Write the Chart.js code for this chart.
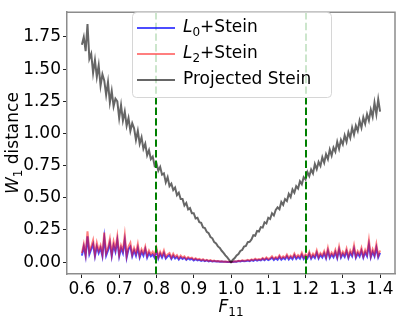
<!DOCTYPE html>
<html lang="en">
<head>
    <meta charset="UTF-8">
    <title>W1 distance vs F11</title>
    <script src="https://cdn.jsdelivr.net/npm/chart.js@4.4.1/dist/chart.umd.min.js"></script>
    <style>
        body {
            margin: 0;
            background: #ffffff;
        }
    </style>
</head>
<body>
    <canvas id="chart" width="399" height="319"></canvas>

    <script>
        // sampling grid of F11 (0.6 .. 1.4, step 0.005)
        const xStart = 0.6;
        const xStep = 0.005;

        const xTicks = [0.6, 0.7, 0.8, 0.9, 1.0, 1.1, 1.2, 1.3, 1.4];
        const yTicks = [0, 0.25, 0.5, 0.75, 1.0, 1.25, 1.5, 1.75];
        const markerLines = [0.8, 1.2];

        const projectedStein = [
            1.69,1.75,1.64,1.85,1.58,1.62,1.47,1.57,1.44,1.53,
            1.37,1.46,1.41,1.30,1.40,1.24,1.33,1.21,1.27,1.25,
            1.12,1.22,1.10,1.17,1.06,1.12,1.02,1.08,1.04,0.95,
            1.02,0.92,0.97,0.88,0.92,0.83,0.87,0.80,0.82,0.75,
            0.77,0.71,0.74,0.68,0.69,0.62,0.66,0.59,0.61,0.56,
            0.58,0.52,0.54,0.49,0.49,0.44,0.46,0.41,0.42,0.38,
            0.38,0.34,0.345,0.31,0.305,0.27,0.265,0.235,0.225,0.195,
            0.185,0.155,0.145,0.122,0.11,0.088,0.072,0.053,0.036,0.018,
            0.0,
            0.018,0.031,0.052,0.063,0.087,0.094,0.121,0.126,0.155,0.158,
            0.176,0.209,0.205,0.242,0.238,0.272,0.268,0.310,0.300,0.345,
            0.335,0.380,0.362,0.405,0.425,0.410,0.468,0.445,0.490,0.475,
            0.530,0.505,0.565,0.540,0.590,0.572,0.628,0.605,0.660,0.642,
            0.700,0.668,0.720,0.690,0.762,0.722,0.778,0.748,0.815,0.772,
            0.838,0.800,0.875,0.828,0.890,0.858,0.935,0.880,0.950,0.915,
            0.985,0.935,1.010,0.965,1.045,0.990,1.060,1.020,1.100,1.045,
            1.125,1.075,1.150,1.100,1.185,1.130,1.240,1.150,1.265,1.170
        ];

        const l2Stein = [
            0.07,0.14,0.06,0.24,0.08,0.12,0.17,0.06,0.15,0.09,
            0.13,0.06,0.23,0.07,0.11,0.18,0.06,0.16,0.10,0.20,
            0.06,0.13,0.09,0.21,0.05,0.12,0.15,0.06,0.11,0.07,
            0.14,0.05,0.10,0.07,0.12,0.05,0.09,0.06,0.08,0.05,
            0.11,0.04,0.08,0.05,0.09,0.04,0.06,0.07,0.035,0.065,
            0.04,0.055,0.03,0.05,0.035,0.045,0.025,0.04,0.03,0.035,
            0.02,0.03,0.02,0.025,0.015,0.022,0.012,0.018,0.01,0.015,
            0.008,0.012,0.006,0.009,0.005,0.006,0.003,0.004,0.002,0.002,
            0.0,
            0.003,0.006,0.005,0.011,0.008,0.014,0.010,0.012,0.018,0.012,
            0.021,0.015,0.026,0.017,0.024,0.020,0.032,0.021,0.036,0.024,
            0.030,0.045,0.026,0.040,0.029,0.052,0.030,0.044,0.033,0.058,
            0.032,0.050,0.035,0.066,0.036,0.055,0.040,0.072,0.037,0.060,
            0.042,0.080,0.038,0.065,0.045,0.090,0.040,0.070,0.050,0.085,
            0.041,0.110,0.045,0.075,0.052,0.095,0.043,0.120,0.048,0.080,
            0.055,0.105,0.044,0.090,0.060,0.130,0.046,0.085,0.058,0.110,
            0.047,0.095,0.062,0.170,0.048,0.100,0.060,0.140,0.050,0.090
        ];

        const l0Stein = [
            0.05,0.12,0.045,0.20,0.06,0.10,0.14,0.045,0.12,0.07,
            0.11,0.045,0.19,0.05,0.09,0.15,0.045,0.13,0.08,0.17,
            0.045,0.11,0.07,0.17,0.035,0.10,0.12,0.045,0.09,0.05,
            0.11,0.035,0.08,0.05,0.10,0.035,0.07,0.045,0.06,0.035,
            0.09,0.028,0.065,0.035,0.07,0.028,0.045,0.055,0.025,0.05,
            0.028,0.042,0.02,0.038,0.025,0.034,0.017,0.03,0.02,0.026,
            0.013,0.022,0.013,0.018,0.01,0.016,0.008,0.013,0.006,0.01,
            0.005,0.008,0.004,0.006,0.003,0.004,0.002,0.003,0.001,0.001,
            0.0,
            0.001,0.004,0.003,0.008,0.005,0.010,0.007,0.009,0.013,0.008,
            0.015,0.010,0.019,0.011,0.018,0.013,0.025,0.014,0.028,0.015,
            0.022,0.035,0.017,0.031,0.019,0.041,0.019,0.034,0.022,0.046,
            0.021,0.039,0.023,0.052,0.024,0.043,0.027,0.057,0.025,0.047,
            0.029,0.064,0.026,0.051,0.032,0.072,0.028,0.056,0.036,0.068,
            0.029,0.088,0.032,0.060,0.038,0.076,0.031,0.096,0.035,0.064,
            0.041,0.084,0.032,0.072,0.045,0.104,0.034,0.068,0.043,0.088,
            0.035,0.076,0.046,0.136,0.036,0.080,0.045,0.112,0.037,0.072
        ];

        const FONT = '"DejaVu Sans", sans-serif';
        const BLUE = 'rgba(0, 0, 255, 0.7)';
        const RED = 'rgba(255, 0, 0, 0.5)';
        const GRAY = 'rgba(0, 0, 0, 0.6)';

        function toPoints(values) {
            return values.map((v, i) => ({ x: +(xStart + i * xStep).toFixed(3), y: v }));
        }

        // draw text made of plain / italic / subscript pieces
        function drawRich(ctx, parts, x, y, size, align) {
            const fontOf = p => (p.italic ? 'italic ' : '') + Math.round(p.sub ? size * 0.7 : size) + 'px ' + FONT;
            let total = 0;
            parts.forEach(p => { ctx.font = fontOf(p); total += ctx.measureText(p.t).width; });
            let cx = align === 'center' ? x - total / 2 : x;
            ctx.textAlign = 'left';
            ctx.textBaseline = 'middle';
            parts.forEach(p => {
                ctx.font = fontOf(p);
                ctx.fillText(p.t, cx, y + (p.sub ? size * 0.28 : 0));
                cx += ctx.measureText(p.t).width;
            });
        }

        const legendItems = [
            { color: BLUE, parts: [{ t: 'L', italic: true }, { t: '0', sub: true }, { t: '+Stein' }] },
            { color: RED, parts: [{ t: 'L', italic: true }, { t: '2', sub: true }, { t: '+Stein' }] },
            { color: GRAY, parts: [{ t: 'Projected Stein' }] }
        ];

        const decorPlugin = {
            id: 'decor',
            afterDatasetsDraw(chart) {
                const ctx = chart.ctx;
                const area = chart.chartArea;
                const xs = chart.scales.x;

                // green dashed markers
                ctx.save();
                ctx.strokeStyle = '#008000';
                ctx.lineWidth = 2;
                ctx.setLineDash([7.4, 3.2]);
                markerLines.forEach(v => {
                    const px = Math.round(xs.getPixelForValue(v));
                    ctx.beginPath();
                    ctx.moveTo(px, area.top);
                    ctx.lineTo(px, area.bottom);
                    ctx.stroke();
                });
                ctx.restore();

                // top and right spines
                ctx.save();
                ctx.strokeStyle = '#8c8c8c';
                ctx.lineWidth = 1.5;
                ctx.beginPath();
                ctx.moveTo(area.left, area.top);
                ctx.lineTo(area.right, area.top);
                ctx.lineTo(area.right, area.bottom);
                ctx.stroke();
                ctx.restore();
            },
            afterDraw(chart) {
                const ctx = chart.ctx;
                const area = chart.chartArea;
                ctx.save();

                // legend
                const bx = 132, by = 12, bw = 199, bh = 85;
                ctx.beginPath();
                ctx.roundRect(bx + 0.5, by + 0.5, bw, bh, 4);
                ctx.fillStyle = 'rgba(255, 255, 255, 0.8)';
                ctx.fill();
                ctx.strokeStyle = '#d6d6d6';
                ctx.lineWidth = 1;
                ctx.stroke();
                legendItems.forEach((item, i) => {
                    const ly = 28 + i * 26;
                    ctx.strokeStyle = item.color;
                    ctx.lineWidth = 2;
                    ctx.beginPath();
                    ctx.moveTo(137, ly);
                    ctx.lineTo(175, ly);
                    ctx.stroke();
                    ctx.fillStyle = '#000';
                    drawRich(ctx, item.parts, 183, ly, 17, 'left');
                });

                // axis titles
                ctx.fillStyle = '#000';
                drawRich(ctx, [{ t: 'F', italic: true }, { t: '11', sub: true }],
                    (area.left + area.right) / 2, 308, 17, 'center');
                ctx.translate(14, (area.top + area.bottom) / 2);
                ctx.rotate(-Math.PI / 2);
                drawRich(ctx, [{ t: 'W', italic: true }, { t: '1', sub: true }, { t: ' distance' }],
                    0, 0, 17, 'center');
                ctx.restore();
            }
        };

        const tickFont = { family: FONT, size: 17 };

        new Chart(document.getElementById('chart'), {
            type: 'line',
            data: {
                datasets: [
                    { label: 'Projected Stein', data: toPoints(projectedStein), borderColor: GRAY, order: 0 },
                    { label: 'L2+Stein', data: toPoints(l2Stein), borderColor: RED, order: 1 },
                    { label: 'L0+Stein', data: toPoints(l0Stein), borderColor: BLUE, order: 2 }
                ]
            },
            options: {
                responsive: false,
                animation: false,
                devicePixelRatio: 1,
                layout: { padding: { left: 0, top: 4, right: 4, bottom: 0 } },
                elements: {
                    line: { borderWidth: 2, tension: 0, fill: false },
                    point: { radius: 0 }
                },
                plugins: {
                    legend: { display: false },
                    tooltip: { enabled: false }
                },
                scales: {
                    x: {
                        type: 'linear',
                        min: 0.56,
                        max: 1.44,
                        afterBuildTicks: s => { s.ticks = xTicks.map(v => ({ value: v })); },
                        afterFit: s => { s.height = 45; },
                        ticks: {
                            font: tickFont,
                            color: '#000',
                            padding: 1,
                            maxRotation: 0,
                            autoSkip: false,
                            callback: v => v.toFixed(1)
                        },
                        grid: { drawOnChartArea: false, tickLength: 4, tickColor: '#222' },
                        border: { color: '#8c8c8c', width: 1.5 }
                    },
                    y: {
                        type: 'linear',
                        min: -0.0925,
                        max: 1.9425,
                        afterBuildTicks: s => { s.ticks = yTicks.map(v => ({ value: v })); },
                        afterFit: s => { s.width = 67; },
                        ticks: {
                            font: tickFont,
                            color: '#000',
                            padding: 2,
                            autoSkip: false,
                            callback: v => v.toFixed(2)
                        },
                        grid: { drawOnChartArea: false, tickLength: 4, tickColor: '#222' },
                        border: { color: '#8c8c8c', width: 1.5 }
                    }
                }
            },
            plugins: [decorPlugin]
        });
    </script>
</body>
</html>
